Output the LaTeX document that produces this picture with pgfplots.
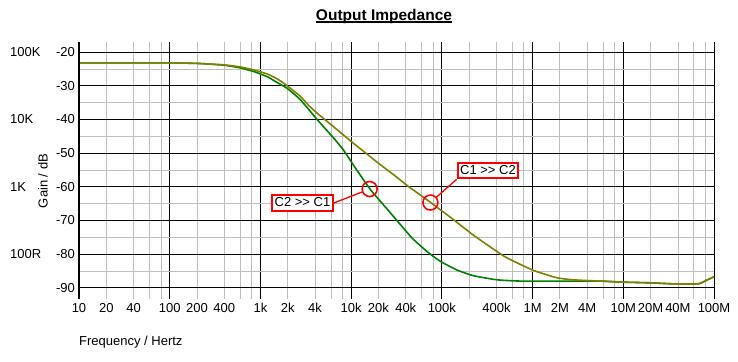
\documentclass[border=0pt]{standalone}
\usepackage{pgfplots}
\pgfplotsset{compat=1.18}
\usepackage{fontspec}
\setmainfont{Liberation Sans}
\definecolor{olivec}{RGB}{128,128,0}
\definecolor{greenc}{RGB}{0,128,0}
\definecolor{minorg}{RGB}{190,190,190}
\newcommand{\fs}{\fontsize{13bp}{15bp}\selectfont}
\begin{document}
\begin{tikzpicture}[x=1bp,y=1bp]
\path[use as bounding box] (-79,-62) rectangle (659,299);
\begin{axis}[
  at={(0,0)}, anchor=south west,
  scale only axis, width=635bp, height=257bp,
  xmode=log, log basis x=10,
  xmin=10, xmax=100000000,
  ymin=-93.3, ymax=-17.0,
  clip=false,
  axis line style={draw=none},
  major tick length=0pt, minor tick length=0pt,
  tick style={draw=none},
  xtick={10,100,1000,10000,100000,1000000,10000000,100000000},
  xticklabels={10,100,1k,10k,100k,1M,10M,100M},
  extra x ticks={20,40,200,400,2000,4000,20000,40000,400000,2000000,4000000,20000000,40000000},
  extra x tick labels={20,40,200,400,2k,4k,20k,40k,400k,2M,4M,20M,40M},
  extra x tick style={grid=none},
  minor xtick={20,40,60,80,200,400,600,800,2000,4000,6000,8000,20000,40000,60000,80000,200000,400000,600000,800000,2000000,4000000,6000000,8000000,20000000,40000000,60000000,80000000},
  ytick={-90,-80,-70,-60,-50,-40,-30,-20},
  yticklabels={-90,-80,-70,-60,-50,-40,-30,-20},
  minor ytick={-85,-75,-65,-55,-45,-35,-25},
  grid=both,
  major grid style={black, line width=0.8bp},
  minor grid style={minorg, line width=0.8bp},
  tick label style={font=\fs},
  xticklabel style={anchor=base, inner sep=0pt, yshift=-13.3bp},
  yticklabel style={anchor=east, inner sep=0pt, xshift=-4bp},
]
\addplot[greenc, line width=1.6bp, no marks, smooth, tension=0.3] coordinates {
(10,-23.2) (100,-23.2) (220,-23.4) (400,-23.9) (600,-24.7) (850,-25.8)
(1190,-27.3) (1500,-28.9) (1980,-30.8) (2770,-34.2) (4240,-40.1) (6460,-45.6)
(8300,-49.2) (11200,-54.5) (16400,-60.9) (27200,-67.8) (47000,-75.2)
(70000,-79.4) (96000,-82.1) (147000,-84.7) (224000,-86.4) (405000,-87.6)
(795000,-88.0) (5600000,-88.0) (10000000,-88.3) (20000000,-88.5) (35000000,-88.8)
(67000000,-88.8) (83000000,-87.7) (100000000,-86.7)
};
\addplot[olivec, line width=1.6bp, no marks, smooth, tension=0.3] coordinates {
(10,-23.2) (100,-23.2) (220,-23.4) (400,-23.8) (600,-24.4) (850,-25.3)
(1190,-26.5) (1500,-27.8) (1820,-29.3) (2200,-31.0) (2770,-33.2) (3400,-35.8)
(4240,-38.2) (5450,-40.6) (7650,-43.9) (10300,-46.8) (15000,-50.3)
(20000,-53.0) (30000,-56.6) (41400,-59.6) (55000,-62.0) (74000,-64.5) (96000,-66.8)
(135000,-69.8) (224000,-74.4) (380000,-78.7) (522000,-81.1)
(1020000,-84.8) (1860000,-87.0) (2800000,-87.6) (5600000,-88.0) (10000000,-88.3)
(20000000,-88.5) (35000000,-88.8) (67000000,-88.8) (83000000,-87.7) (100000000,-86.7)
};
\draw[black, line width=2.5bp] (rel axis cs:0,0) -- (rel axis cs:0,1);
\coordinate (c2) at (axis cs:16000,-60.65);
\coordinate (c1) at (axis cs:74800,-64.66);
\coordinate (l20) at (axis cs:10,-20);
\coordinate (l40) at (axis cs:10,-40);
\coordinate (l60) at (axis cs:10,-60);
\coordinate (l80) at (axis cs:10,-80);
\end{axis}
% side labels
\node[anchor=west, inner sep=0pt, font=\fs] at ([xshift=-69bp]l20) {100K};
\node[anchor=west, inner sep=0pt, font=\fs] at ([xshift=-69bp]l40) {10K};
\node[anchor=west, inner sep=0pt, font=\fs] at ([xshift=-69bp]l60) {1K};
\node[anchor=west, inner sep=0pt, font=\fs] at ([xshift=-69bp]l80) {100R};
\node[rotate=90, inner sep=0pt, font=\fs] at (-36,118) {Gain / dB};
\node[anchor=base west, inner sep=0pt, font=\fs] at (0,-46) {Frequency / Hertz};
% title
\node[anchor=base, inner sep=0pt, font=\fontsize{15.5bp}{17bp}\selectfont\bfseries] (t) at (305,279) {Output Impedance};
\draw[line width=1.5bp] ([yshift=-2.2bp]t.base west) -- ([yshift=-2.2bp]t.base east);
% annotations
\draw[red, line width=1.6bp] (c2) circle[radius=7.5bp];
\draw[red, line width=1.6bp] (c1) circle[radius=7.5bp];
\node[draw=red, line width=2bp, fill=white, inner xsep=2.5bp, inner ysep=2bp, text height=9.5bp, text depth=2bp, font=\fs] (b2) at (223.5,96) {C2 >\kern0pt> C1};
\node[draw=red, line width=2bp, fill=white, inner xsep=2.5bp, inner ysep=2bp, text height=9.5bp, text depth=2bp, font=\fs] (b1) at (409,128.5) {C1 >\kern0pt> C2};
\draw[red, line width=1.3bp, shorten >=7.5bp] (b2.east) -- (c2);
\draw[red, line width=1.3bp, shorten >=7.5bp] (b1.south west) -- (c1);
\end{tikzpicture}
\end{document}
